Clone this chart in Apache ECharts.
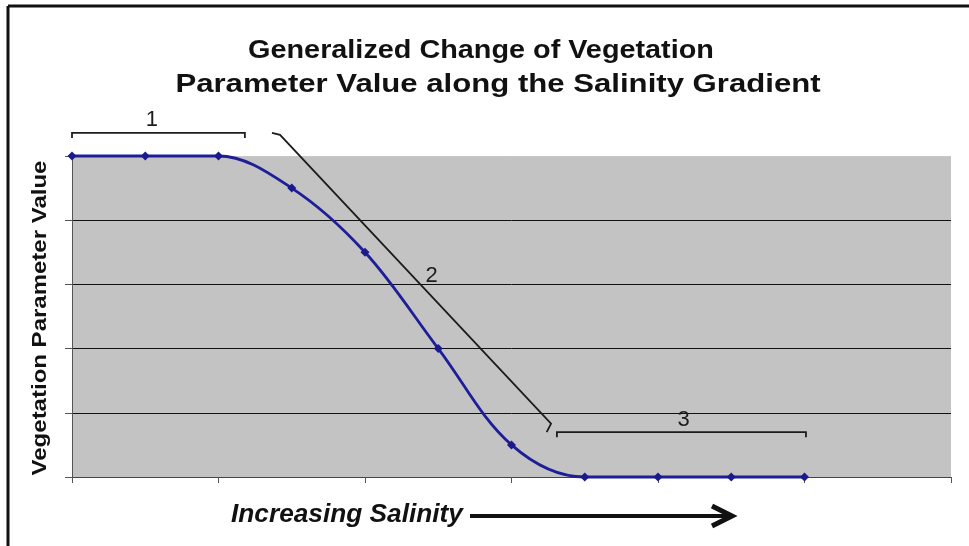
<!DOCTYPE html>
<html>
<head>
<meta charset="utf-8">
<script src="https://cdn.jsdelivr.net/npm/echarts@6/dist/echarts.min.js"></script>
<style>
  html, body { margin: 0; padding: 0; background: #fff; }
  #main { width: 969px; height: 546px; }
</style>
</head>
<body>
<div id="main"></div>
<script>
// salinity position (0..12) and vegetation parameter value (0..5)
var salinity = [0, 1, 2, 3, 4, 5, 6, 7, 8, 9, 10];
var vegValue = [5, 5, 5, 4.5, 3.5, 2, 0.5, 0, 0, 0, 0];
var zoneLabels = ['1', '2', '3'];

var chart = echarts.init(document.getElementById('main'), null, { renderer: 'canvas' });

var ink = '#1c1c1c';
var font = '"Liberation Sans", Arial, sans-serif';
var points = salinity.map(function (x, i) { return [x, vegValue[i]]; });

var option = {
    backgroundColor: '#ffffff',
    animation: false,
    grid: {
        left: 72,
        right: 18,
        top: 156,
        bottom: 69,
        show: true,
        backgroundColor: '#c3c3c3',
        borderWidth: 0
    },
    xAxis: {
        type: 'value',
        min: 0,
        max: 12,
        interval: 2,
        axisLine: { lineStyle: { color: '#444', width: 1 } },
        axisTick: { show: true, length: 6, lineStyle: { color: '#555' } },
        axisLabel: { show: false },
        splitLine: { show: false }
    },
    yAxis: {
        type: 'value',
        min: 0,
        max: 5,
        interval: 1,
        axisLine: { show: true, lineStyle: { color: '#555', width: 1 } },
        axisTick: { show: true, length: 7, lineStyle: { color: '#555' } },
        axisLabel: { show: false },
        splitLine: {
            show: true,
            lineStyle: { color: ['#111', '#111', '#111', '#111', '#111', '#c8c8c8'], width: 1 }
        }
    },
    series: [{
        type: 'line',
        data: points,
        smooth: 0.35,
        clip: false,
        symbol: 'diamond',
        symbolSize: 9,
        lineStyle: { color: '#1e1e98', width: 2.8 },
        itemStyle: { color: '#1a1a8c' }
    }]
};

chart.setOption(option);

// annotations in data units, placed through the chart's own scales
var annoLines = [
    [[0, 5.28], [0, 5.36], [2.36, 5.36], [2.36, 5.28]],
    [[2.73, 5.36], [2.84, 5.33], [6.54, 0.83], [6.48, 0.70]],
    [[6.62, 0.62], [6.62, 0.70], [10.02, 0.70], [10.02, 0.62]]
];
var annoText = [[1.09, 5.56], [4.91, 3.13], [8.35, 0.89]];

function px(p) { return chart.convertToPixel({ gridIndex: 0 }, p); }

var graphics = [
    { type: 'line', shape: { x1: 8, y1: 6, x2: 969, y2: 6 }, style: { stroke: '#111', lineWidth: 3 } },
    { type: 'line', shape: { x1: 8, y1: 6, x2: 8, y2: 546 }, style: { stroke: '#111', lineWidth: 3 } },
    {
        type: 'text', x: 481, y: 51, scaleX: 1.108,
        style: { text: 'Generalized Change of Vegetation', font: 'bold 26px ' + font, fill: '#111', align: 'center', verticalAlign: 'middle' }
    },
    {
        type: 'text', x: 498, y: 85, scaleX: 1.197,
        style: { text: 'Parameter Value along the Salinity Gradient', font: 'bold 26px ' + font, fill: '#111', align: 'center', verticalAlign: 'middle' }
    },
    {
        type: 'text', x: 40, y: 318, rotation: Math.PI / 2, scaleX: 1.2,
        style: { text: 'Vegetation Parameter Value', font: 'bold 20px ' + font, fill: '#111', align: 'center', verticalAlign: 'middle' }
    },
    {
        type: 'text', x: 231, y: 515, scaleX: 1.05,
        style: { text: 'Increasing Salinity', font: 'italic bold 25px ' + font, fill: '#111', align: 'left', verticalAlign: 'middle' }
    },
    { type: 'line', shape: { x1: 470, y1: 516, x2: 731, y2: 516 }, style: { stroke: '#111', lineWidth: 4 } },
    { type: 'polyline', shape: { points: [[712, 506], [732, 516], [712, 526]] }, style: { stroke: '#111', lineWidth: 5, fill: null } }
];

annoLines.forEach(function (pts) {
    graphics.push({
        type: 'polyline',
        shape: { points: pts.map(px) },
        style: { stroke: ink, lineWidth: 1.8, fill: null }
    });
});
annoText.forEach(function (p, i) {
    var q = px(p);
    graphics.push({
        type: 'text', x: q[0], y: q[1],
        style: { text: zoneLabels[i], font: '22px ' + font, fill: ink, align: 'center', verticalAlign: 'middle' }
    });
});

chart.setOption({ graphic: graphics });
</script>
</body>
</html>
